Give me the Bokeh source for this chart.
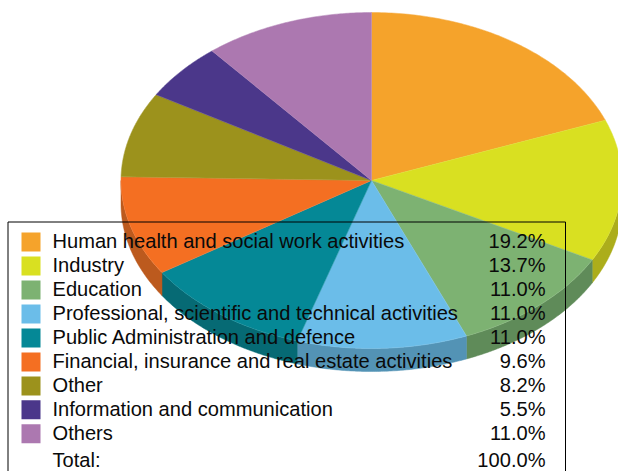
import numpy as np
from bokeh.plotting import figure
from bokeh.models import Range1d
from bokeh.core.properties import value
from bokeh.embed import file_html
from bokeh.resources import INLINE

categories = ["Human health and social work activities", "Industry", "Education",
              "Professional, scientific and technical activities", "Public Administration and defence",
              "Financial, insurance and real estate activities", "Other",
              "Information and communication", "Others"]
shares = [19.2, 13.7, 11.0, 11.0, 11.0, 9.6, 8.2, 5.5, 11.0]
share_labels = ["19.2%", "13.7%", "11.0%", "11.0%", "11.0%", "9.6%", "8.2%", "5.5%", "11.0%"]
total_label = "100.0%"
colors = ["#F5A32B", "#D9E021", "#7DB272", "#6BBDE9", "#058896", "#F46F22", "#9C921C", "#4B378A", "#AC78B0"]
side_colors = ["#BC7D21", "#ACAD1B", "#5F8B59", "#5393B5", "#066A74", "#BC5A1E", "#787016", "#3A2A6A", "#845C87"]

CX, CY, RX, RY, DEPTH = 371.0, 180.0, 250.5, 168.0, 23.0
row_y = [240.4, 264.4, 288.4, 312.4, 336.4, 360.4, 384.4, 408.2, 432.2]

p = figure(width=618, height=471, output_backend="svg", toolbar_location=None,
           x_range=Range1d(0, 618), y_range=Range1d(471, 0),
           min_border=0, outline_line_color=None, margin=(0, 0, 0, 0))
p.axis.visible = False
p.grid.visible = False

s = np.array(shares)
edges = np.concatenate([[0], np.cumsum(s)]) / s.sum() * 2 * np.pi

top_x, top_y, side_x, side_y, side_c = [], [], [], [], []
for i in range(len(s)):
    a = np.linspace(edges[i], edges[i + 1], 90)
    ax = CX + RX * np.sin(a)
    ay = CY - RY * np.cos(a)
    top_x.append(np.concatenate([[CX], ax]))
    top_y.append(np.concatenate([[CY], ay]))
    lo, hi = max(edges[i], np.pi / 2), min(edges[i + 1], 1.5 * np.pi)
    if hi > lo:
        b = np.linspace(lo, hi, 90)
        bx = CX + RX * np.sin(b)
        by = CY - RY * np.cos(b)
        side_x.append(np.concatenate([bx, bx[::-1]]))
        side_y.append(np.concatenate([by, by[::-1] + DEPTH]))
        side_c.append(side_colors[i])

p.patches(side_x, side_y, fill_color=side_c, line_color=side_c, line_width=0.5)
p.patches(top_x, top_y, fill_color=colors, line_color=colors, line_width=0.5)
p.multi_line(top_x, top_y, line_color="white", line_alpha=0.12, line_width=0.7)

# legend box (transparent)
p.quad(left=[7.5], right=[565], top=[221.5], bottom=[490], fill_alpha=0, line_color="#000000", line_width=1)

FS = "20.1px"
FONT = value("Liberation Sans")
row = np.array(row_y)
p.quad(left=[21] * 9, right=[40] * 9, top=row - 8.4, bottom=row + 10.6, fill_color=colors, line_color=None)
p.text(x=[52] * 9, y=row, text=categories, text_font=FONT, text_font_size=FS,
       text_baseline="middle", text_align="left", text_color="#0a0a0a")
p.text(x=[545] * 9, y=row, text=share_labels, text_font=FONT, text_font_size=FS,
       text_baseline="middle", text_align="right", text_color="#0a0a0a")
p.text(x=[52], y=[459.6], text=["Total:"], text_font=FONT, text_font_size=FS,
       text_baseline="middle", text_align="left", text_color="#0a0a0a")
p.text(x=[545], y=[459.6], text=[total_label], text_font=FONT, text_font_size=FS,
       text_baseline="middle", text_align="right", text_color="#0a0a0a")

open("out.html", "w").write(file_html(p, INLINE))
